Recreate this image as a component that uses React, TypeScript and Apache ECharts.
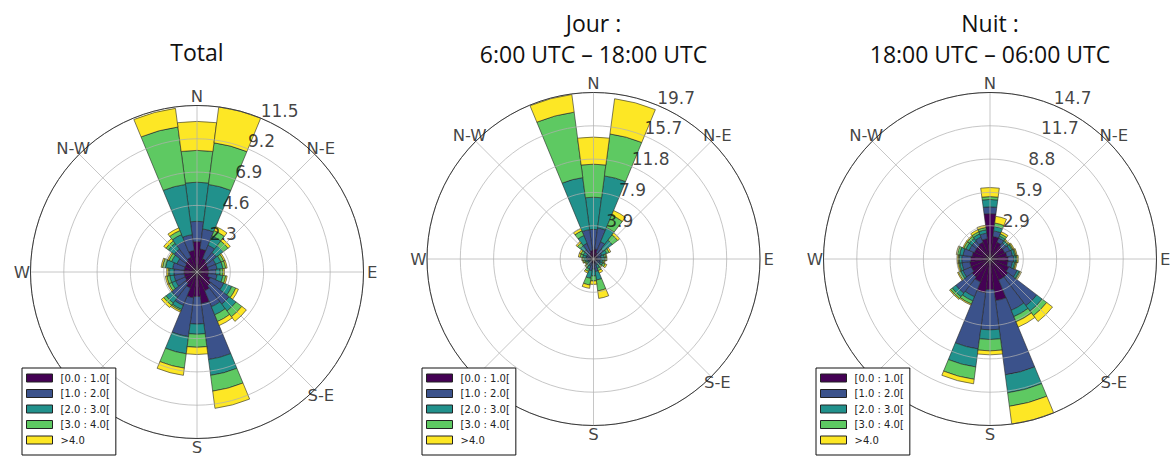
import React, { useEffect, useRef } from "react";
import * as echarts from "echarts";

// ---- categories ----
const sectors = ["0","15","30","45","60","75","90","105","120","135","150","165","180","195","210","225","240","255","270","285","300","315","330","345"];
const binNames = ["[0.0 : 1.0[", "[1.0 : 2.0[", "[2.0 : 3.0[", "[3.0 : 4.0[", ">4.0"];
const binColors = ["#440154", "#3b528b", "#21918c", "#5ec962", "#fde725"];
const directionNames = ["N", "N-E", "E", "S-E", "S", "W", "N-W"];
const directionAngles = [0, 45, 90, 135, 180, 270, 315];
const titles = ["Total", "Jour :\n6:00 UTC – 18:00 UTC", "Nuit :\n18:00 UTC – 06:00 UTC"];

// ---- Total (frequency % per speed bin, 24 sectors from N clockwise) ----
const total01 = [2.1,1.6,1.0,0.9,0.8,0.8,0.8,0.8,1.0,1.2,1.4,2.2,1.7,1.8,1.2,1.0,0.9,0.9,0.9,0.9,0.9,1.0,1.1,1.5];
const total12 = [1.4,1.4,1.0,0.8,0.6,0.6,0.5,0.6,1.0,1.6,1.2,3.9,1.9,2.7,1.3,1.2,0.7,0.7,0.7,0.8,0.6,1.0,1.2,1.1];
const total23 = [2.7,3.1,0.7,0.6,0.4,0.4,0.3,0.4,0.6,0.6,0.6,1.1,0.7,1.2,0.3,0.5,0.3,0.3,0.3,0.5,0.4,0.5,0.5,3.5];
const total34 = [2.2,2.9,0.4,0.4,0.2,0.2,0.2,0.2,0.3,0.5,0.5,1.1,0.9,1.0,0.1,0.2,0.2,0.2,0.1,0.2,0.2,0.2,0.3,4.0];
const total4p = [2.0,2.5,0.3,0.2,0.1,0.1,0.1,0.1,0.2,0.4,0.3,1.2,0.5,0.5,0.1,0.2,0.1,0.1,0.1,0.1,0.1,0.2,0.2,1.3];

// ---- Jour ----
const jour01 = [1.1,1.2,0.8,0.6,0.5,0.4,0.4,0.4,0.4,0.3,0.3,0.5,0.5,0.5,0.4,0.3,0.3,0.3,0.4,0.4,0.4,0.6,0.8,1.0];
const jour12 = [2.4,2.5,1.4,0.9,0.6,0.5,0.5,0.4,0.5,0.4,0.5,1.0,0.7,0.9,0.5,0.4,0.3,0.4,0.4,0.5,0.5,0.8,1.2,2.5];
const jour23 = [3.8,6.2,1.8,1.3,0.6,0.4,0.4,0.3,0.3,0.3,0.4,1.0,0.8,0.9,0.4,0.3,0.2,0.3,0.3,0.4,0.4,0.6,1.0,6.2];
const jour34 = [3.9,5.0,1.6,0.8,0.3,0.2,0.2,0.2,0.3,0.2,0.3,1.3,0.6,0.8,0.3,0.2,0.2,0.2,0.2,0.3,0.3,0.4,0.6,7.8];
const jour4p = [3.2,4.2,0.6,0.3,0.2,0.1,0.1,0.1,0.2,0.1,0.3,0.9,0.4,0.4,0.2,0.1,0.1,0.1,0.1,0.2,0.2,0.2,0.3,2.1];

// ---- Nuit ----
const nuit01 = [4.0,2.0,1.6,1.4,1.4,1.5,1.6,1.6,1.8,2.0,2.0,3.7,2.7,3.0,2.2,2.0,1.8,1.8,1.7,1.6,1.5,1.5,1.6,1.8];
const nuit12 = [0.6,0.5,0.4,0.4,0.5,0.5,0.5,0.4,0.8,3.2,2.9,6.6,3.55,5.0,1.4,1.8,0.8,0.7,0.8,0.8,0.5,0.5,0.5,0.5];
const nuit23 = [0.65,0.4,0.2,0.2,0.2,0.2,0.2,0.2,0.2,0.6,0.6,1.6,0.85,1.6,0.4,0.4,0.2,0.2,0.2,0.3,0.3,0.3,0.3,0.3];
const nuit34 = [0.25,0.3,0.2,0.1,0.1,0.1,0.1,0.1,0.1,0.5,0.5,1.2,1.0,1.1,0.3,0.2,0.2,0.1,0.1,0.2,0.2,0.2,0.2,0.2];
const nuit4p = [0.8,0.6,0.2,0.1,0.1,0.1,0.1,0.1,0.1,0.65,0.5,1.58,0.35,0.4,0.1,0.1,0.1,0.1,0.1,0.1,0.1,0.1,0.2,0.2];

// ---- radial ticks ----
const totalTicks = ["2.3", "4.6", "6.9", "9.2", "11.5"];
const jourTicks = ["3.9", "7.9", "11.8", "15.7", "19.7"];
const nuitTicks = ["2.9", "5.9", "8.8", "11.7", "14.7"];
const rMax = [11.5, 19.67, 14.68];

const chartData = [
  [total01, total12, total23, total34, total4p],
  [jour01, jour12, jour23, jour34, jour4p],
  [nuit01, nuit12, nuit23, nuit34, nuit4p],
];
const chartTicks = [totalTicks, jourTicks, nuitTicks];

// ---- layout / style ----
const centers = [[197, 272], [593.5, 259], [990, 259]];
const RADIUS = 166.5;
const LABEL_R = 1.052;
const legendLeft = [22, 422, 816];
const titleTop = [52, 38, 38];
const gridColor = "rgba(175,175,175,0.8)";

export default function App() {
  const ref = useRef<HTMLDivElement>(null);
  useEffect(() => {
    if (!ref.current) return;
    const chart = echarts.init(ref.current, undefined, { renderer: "svg" });
    const polar: any[] = [];
    const angleAxis: any[] = [];
    const radiusAxis: any[] = [];
    const series: any[] = [];
    [0, 1, 2].forEach((k) => {
      const rmax = rMax[k];
      // bars polar
      polar.push({ center: centers[k], radius: RADIUS });
      angleAxis.push({ polarIndex: 2 * k, type: "category", data: sectors, startAngle: 97.5, clockwise: true, show: false });
      radiusAxis.push({ polarIndex: 2 * k, type: "value", min: 0, max: rmax, show: false });
      // grid polar
      polar.push({ center: centers[k], radius: RADIUS });
      angleAxis.push({
        polarIndex: 2 * k + 1, type: "value", min: 0, max: 360, interval: 45, startAngle: 90, clockwise: true, z: 5,
        axisLine: { show: true, lineStyle: { color: "#3a3a3a", width: 1 } },
        axisTick: { show: false }, axisLabel: { show: false },
        splitLine: { show: true, lineStyle: { color: gridColor, width: 0.9 } },
      });
      radiusAxis.push({
        polarIndex: 2 * k + 1, type: "value", min: 0, max: rmax, interval: rmax / 5, z: 5,
        axisLine: { show: false }, axisTick: { show: false }, axisLabel: { show: false },
        splitLine: { show: true, lineStyle: { color: gridColor, width: 0.9 } },
      });
      chartData[k].forEach((vals, b) => {
        series.push({
          type: "bar", coordinateSystem: "polar", polarIndex: 2 * k, name: binNames[b],
          stack: "s" + k, data: vals, barCategoryGap: "0%",
          itemStyle: { color: binColors[b], borderColor: "#262626", borderWidth: 0.6 },
          silent: true,
        });
      });
      series.push({
        type: "scatter", coordinateSystem: "polar", polarIndex: 2 * k + 1, silent: true, clip: false, z: 6,
        symbolSize: 1, itemStyle: { color: "rgba(0,0,0,0)" },
        data: directionNames.map((n, i) => ({ value: [rmax * LABEL_R, directionAngles[i]], name: n })),
        label: { show: true, position: "inside", formatter: "{b}", fontFamily: "DejaVu Sans", fontSize: 16.5, lineHeight: 13, color: "#111", align: "center", verticalAlign: "middle" },
      });
      series.push({
        type: "scatter", coordinateSystem: "polar", polarIndex: 2 * k + 1, silent: true, clip: false, z: 6,
        symbolSize: 1, itemStyle: { color: "rgba(0,0,0,0)" },
        data: chartTicks[k].map((t, i) => ({ value: [(rmax * (i + 1)) / 5, 22.5], name: t })),
        label: { show: true, position: "inside", formatter: "{b}", fontFamily: "DejaVu Sans", fontSize: 17, color: "#111", align: "left", verticalAlign: "bottom", offset: [0, 1] },
      });
    });
    chart.setOption({
      animation: false,
      backgroundColor: "#fff",
      title: titles.map((t, k) => ({
        text: t, left: centers[k][0], top: titleTop[k], textAlign: "center", textVerticalAlign: "middle", padding: 0,
        textStyle: { fontFamily: "Open Sans", fontWeight: "normal", fontSize: 23, color: "#111", lineHeight: 31 },
      })),
      legend: [0, 1, 2].map((k) => ({
        data: binNames, orient: "vertical", left: legendLeft[k], top: 368,
        icon: "rect", itemWidth: 26, itemHeight: 8, itemGap: 5.5,
        backgroundColor: "#fff", borderColor: "#111", borderWidth: 1, borderRadius: 0,
        padding: [5, 6, 10, 4], selectedMode: false, z: 10,
        itemStyle: { borderColor: "#222", borderWidth: 1 },
        textStyle: { fontFamily: "DejaVu Sans", fontSize: 10, color: "#222", lineHeight: 10, padding: [0, 0, 0, 3] },
      })),
      polar, angleAxis, radiusAxis, series,
    });
    return () => chart.dispose();
  }, []);
  return <div ref={ref} style={{ position: "absolute", left: 0, top: 0, width: 1174, height: 457 }} />;
}
